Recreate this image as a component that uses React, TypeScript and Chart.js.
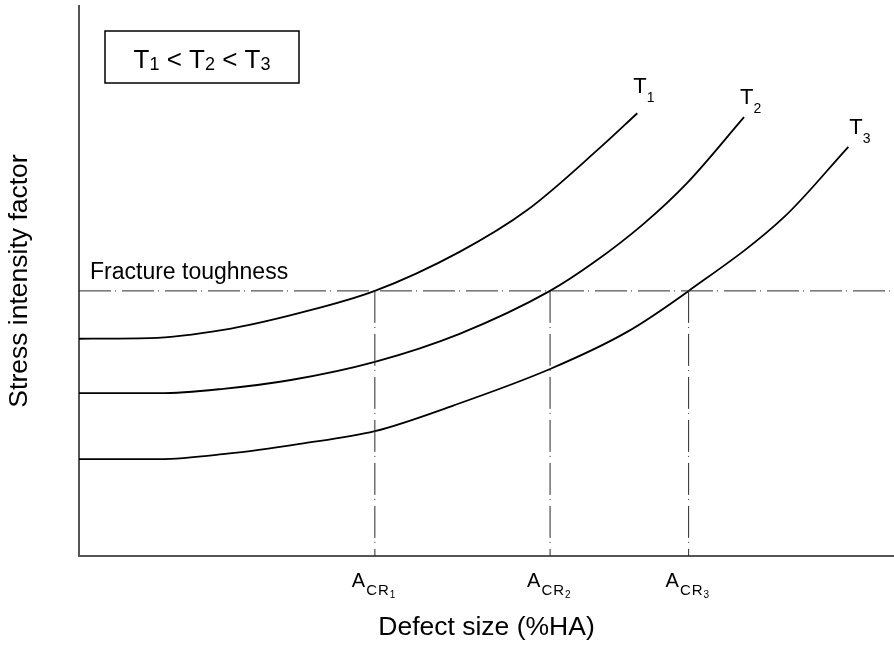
import { useEffect, useRef } from "react";
import { Chart, registerables } from "chart.js";

Chart.register(...registerables);

// Stress intensity factor vs. defect size for three temperatures (arbitrary units)
const T1_X = [0, 8.7, 17.7, 27.1, 36.3, 46.7, 55.0, 63.9, 68.5];
const T1_Y = [39.5, 39.6, 41.1, 44.2, 48.2, 55.3, 62.9, 74.2, 80.5];

const T2_X = [0, 9.9, 17.7, 26.0, 36.3, 46.7, 57.8, 63.1, 69.2, 74.6, 81.6];
const T2_Y = [29.6, 29.6, 30.4, 32.0, 35.3, 40.4, 48.2, 53.3, 60.3, 67.8, 79.8];

const T3_X = [0, 9.9, 18.2, 27.1, 36.3, 46.0, 57.8, 67.2, 74.8, 86.5, 94.4];
const T3_Y = [17.6, 17.6, 18.6, 20.4, 22.7, 27.4, 34.0, 40.7, 48.2, 61.6, 74.4];

const CURVE_LABELS = ["T1", "T2", "T3"];
const CURVE_SUBS = ["1", "2", "3"];

const FRACTURE_TOUGHNESS = 48.2;
const FRACTURE_LINE_END = 99.5;
const ACR_VALUES = [36.3, 57.8, 74.8];
const ACR_SUBS = ["1", "2", "3"];

const X_TITLE = "Defect size (%HA)";
const Y_TITLE = "Stress intensity factor";
const FRACTURE_LABEL = "Fracture toughness";

const FONT = "'Liberation Sans', Arial, Helvetica, sans-serif";
const DASH = [32, 4, 1, 6];

type Part = [string, number, number];

// Draws a run of text pieces, each with its own size and vertical shift.
function drawRun(ctx: CanvasRenderingContext2D, x: number, y: number, parts: Part[]) {
  let cx = x;
  for (const [text, size, dy] of parts) {
    ctx.font = `${size}px ${FONT}`;
    ctx.fillText(text, cx, y + dy);
    cx += ctx.measureText(text).width;
  }
  return cx - x;
}

function runWidth(ctx: CanvasRenderingContext2D, parts: Part[]) {
  let w = 0;
  for (const [text, size] of parts) {
    ctx.font = `${size}px ${FONT}`;
    w += ctx.measureText(text).width;
  }
  return w;
}

const annotations = {
  id: "annotations",
  afterDatasetsDraw(chart: any) {
    const { ctx, chartArea, scales } = chart;
    const xs = scales.x;
    const ys = scales.y;
    ctx.save();
    ctx.fillStyle = "#000";
    ctx.textAlign = "left";
    ctx.textBaseline = "alphabetic";

    // Legend box: T1 < T2 < T3
    const bx = chartArea.left + 26;
    const by = chartArea.top + 25;
    const bw = 194;
    const bh = 52;
    ctx.strokeStyle = "#000";
    ctx.lineWidth = 1.5;
    ctx.strokeRect(bx, by, bw, bh);
    const boxParts: Part[] = [];
    CURVE_SUBS.forEach((s, i) => {
      boxParts.push(["T", 26, 0]);
      boxParts.push([s, 18, 2]);
      if (i < CURVE_SUBS.length - 1) boxParts.push([" < ", 26, 0]);
    });
    const tw = runWidth(ctx, boxParts);
    drawRun(ctx, bx + (bw - tw) / 2, by + 37, boxParts);

    // Fracture toughness label above the dashed line
    ctx.font = `23px ${FONT}`;
    ctx.fillText(FRACTURE_LABEL, chartArea.left + 11, ys.getPixelForValue(FRACTURE_TOUGHNESS) - 12);

    // Curve labels at the end of each curve
    const ends = [
      [T1_X[T1_X.length - 1], T1_Y[T1_Y.length - 1], -4, -20],
      [T2_X[T2_X.length - 1], T2_Y[T2_Y.length - 1], -4, -13],
      [T3_X[T3_X.length - 1], T3_Y[T3_Y.length - 1], 1, -13],
    ];
    ends.forEach(([ex, ey, dx, dy], i) => {
      const px = xs.getPixelForValue(ex) + dx;
      const py = ys.getPixelForValue(ey) + dy;
      drawRun(ctx, px, py, [["T", 22, 0], [CURVE_SUBS[i], 14, 9]]);
    });

    // Critical defect size labels under the axis
    ACR_VALUES.forEach((v, i) => {
      const px = xs.getPixelForValue(v) - 23;
      const base = chartArea.bottom;
      ctx.font = `20px ${FONT}`;
      ctx.fillText("A", px, base + 31);
      const aw = ctx.measureText("A").width;
      ctx.font = `15px ${FONT}`;
      ctx.fillText("C", px + aw + 1, base + 39);
      const cw = ctx.measureText("C").width;
      ctx.fillText("R", px + aw + cw + 2, base + 39);
      const rw = ctx.measureText("R").width;
      ctx.font = `10px ${FONT}`;
      ctx.fillText(ACR_SUBS[i], px + aw + cw + rw + 3, base + 42);
    });

    ctx.restore();
  },
};

function toPoints(xs: number[], ys: number[]) {
  return xs.map((x, i) => ({ x, y: ys[i] }));
}

export default function App() {
  const canvasRef = useRef<HTMLCanvasElement | null>(null);

  useEffect(() => {
    if (!canvasRef.current) return;

    const curve = (label: string, xs: number[], ys: number[]) => ({
      label,
      data: toPoints(xs, ys),
      borderColor: "#000",
      borderWidth: 1.8,
      pointRadius: 0,
      cubicInterpolationMode: "monotone" as const,
      fill: false,
    });

    const dashed = (label: string, data: { x: number; y: number }[]) => ({
      label,
      data,
      borderColor: "#2a2a2a",
      borderWidth: 1,
      borderDash: DASH,
      pointRadius: 0,
      tension: 0,
      fill: false,
    });

    const chart = new Chart(canvasRef.current, {
      type: "line",
      data: {
        datasets: [
          dashed(FRACTURE_LABEL, [
            { x: 0, y: FRACTURE_TOUGHNESS },
            { x: FRACTURE_LINE_END, y: FRACTURE_TOUGHNESS },
          ]),
          ...ACR_VALUES.map((v, i) =>
            dashed(`ACR${ACR_SUBS[i]}`, [
              { x: v, y: FRACTURE_TOUGHNESS },
              { x: v, y: 0 },
            ])
          ),
          curve(CURVE_LABELS[0], T1_X, T1_Y),
          curve(CURVE_LABELS[1], T2_X, T2_Y),
          curve(CURVE_LABELS[2], T3_X, T3_Y),
        ],
      },
      options: {
        animation: false,
        responsive: false,
        parsing: false as any,
        layout: { padding: { top: 6, right: 0, bottom: 0, left: 0 } },
        plugins: {
          legend: { display: false },
          tooltip: { enabled: false },
        },
        scales: {
          x: {
            type: "linear",
            min: 0,
            max: 100,
            ticks: { display: false },
            grid: { display: false },
            border: { display: true, color: "#555", width: 2 },
            title: {
              display: true,
              text: X_TITLE,
              color: "#000",
              font: { family: FONT, size: 26.5 },
              padding: { top: 0, bottom: 2 },
            },
            afterFit(scale: any) {
              scale.height = 90;
            },
          },
          y: {
            type: "linear",
            min: 0,
            max: 100,
            ticks: { display: false },
            grid: { display: false },
            border: { display: true, color: "#555", width: 2 },
            title: {
              display: true,
              text: Y_TITLE,
              color: "#000",
              font: { family: FONT, size: 26.5 },
              padding: { top: 4, bottom: 0 },
            },
            afterFit(scale: any) {
              scale.width = 79;
            },
          },
        },
      },
      plugins: [annotations],
    });

    return () => chart.destroy();
  }, []);

  return (
    <div style={{ position: "absolute", left: 0, top: 0, width: 894, height: 646, background: "#fff" }}>
      <canvas ref={canvasRef} width={894} height={646} />
    </div>
  );
}
